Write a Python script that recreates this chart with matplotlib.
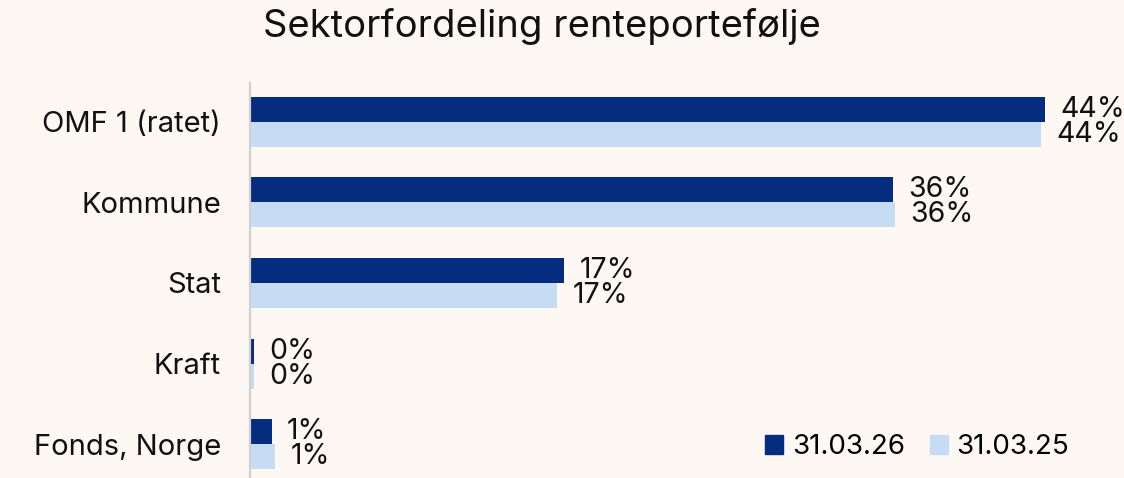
import matplotlib
matplotlib.use("Agg")
import numpy as np
from matplotlib import pyplot as plt
from matplotlib.patches import Patch

plt.rcParams['font.family'] = ['Inter', 'DejaVu Sans']

categories = ['OMF 1 (ratet)', 'Kommune', 'Stat', 'Kraft', 'Fonds, Norge']
vals_26 = [44.0, 35.6, 17.4, 0.2, 1.2]
vals_25 = [43.8, 35.7, 17.0, 0.2, 1.4]
labels_26 = ['44%', '36%', '17%', '0%', '1%']
labels_25 = ['44%', '36%', '17%', '0%', '1%']
series = ['31.03.26', '31.03.25']

DARK = '#052C7F'
LIGHT = '#C6DCF3'
BG = '#FDF8F4'

fig = plt.figure(figsize=(11.24, 4.78), dpi=100, facecolor=BG)
ax = fig.add_axes([250 / 1124, 0, 1 - 250 / 1124, (478 - 83) / 478])
ax.set_facecolor(BG)

y = np.arange(len(categories))
h = 0.31
b1 = ax.barh(y - h / 2, vals_26, height=h, color=DARK, label=series[0])
b2 = ax.barh(y + h / 2, vals_25, height=h, color=LIGHT, label=series[1])

for bars, labs in ((b1, labels_26), (b2, labels_25)):
    for rect, lab in zip(bars, labs):
        ax.annotate(lab, (rect.get_width(), rect.get_y() + rect.get_height() / 2),
                    xytext=(11, 0), textcoords='offset points',
                    ha='left', va='center', fontsize=20.5, color='#111111')

ax.set_xlim(0, 874 / 18.07)
ax.set_ylim(4.42, -0.48)
ax.set_yticks(y)
ax.set_yticklabels(categories, fontsize=21, color='#111111')
ax.tick_params(axis='y', length=0, pad=21)
ax.set_xticks([])
for s in ('top', 'right', 'bottom'):
    ax.spines[s].set_visible(False)
ax.spines['left'].set_color('#D3CFCB')
ax.spines['left'].set_linewidth(1.6)

handles = [Patch(color=DARK), Patch(color=LIGHT)]
ax.legend(handles, series, ncol=2, frameon=False, fontsize=20,
          loc='center right', bbox_to_anchor=((1080 - 250) / 874, 31 / 395),
          handlelength=0.65, handleheight=0.65, handletextpad=0.3, columnspacing=0.9,
          borderaxespad=0)

fig.text(542 / 1124, 1 - 27 / 478, 'Sektorfordeling renteportefølje',
         ha='center', va='center', fontsize=27.5, color='#111111')

fig.savefig('out.png', dpi=100, facecolor=BG)
